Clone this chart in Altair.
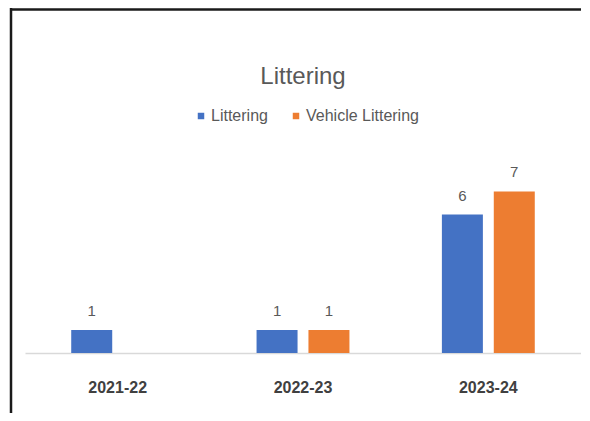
import altair as alt
import pandas as pd

years = ["2021-22", "2022-23", "2023-24"]
series = ["Littering", "Vehicle Littering"]
littering = [1, 1, 6]
vehicle_littering = [None, 1, 7]
colors = ["#4472C4", "#ED7D31"]

rows = []
for yr, a, b in zip(years, littering, vehicle_littering):
    if a is not None:
        rows.append({"year": yr, "series": series[0], "value": a})
    if b is not None:
        rows.append({"year": yr, "series": series[1], "value": b})
df = pd.DataFrame(rows)

FONT = "Liberation Sans"

x = alt.X(
    "year:N",
    sort=years,
    scale=alt.Scale(domain=years, paddingInner=0.44, paddingOuter=0.22),
    axis=alt.Axis(
        title=None,
        labelAngle=0,
        labelFontSize=16,
        labelFontWeight=600,
        labelColor="#404040",
        labelFont=FONT,
        labelPadding=26,
        ticks=False,
        grid=False,
        domainColor="#D9D9D9",
        domainWidth=1.5,
    ),
)
xo = alt.XOffset(
    "series:N",
    sort=series,
    scale=alt.Scale(domain=series, paddingInner=0.21, paddingOuter=0.105),
)
y = alt.Y("value:Q", scale=alt.Scale(domain=[0, 7.8]), axis=None)
color = alt.Color(
    "series:N",
    sort=series,
    scale=alt.Scale(domain=series, range=colors),
    legend=alt.Legend(
        title=None,
        orient="none",
        direction="horizontal",
        legendX=168,
        legendY=-65,
        padding=0,
        symbolType="square",
        symbolSize=42,
        symbolStrokeWidth=0,
        labelFontSize=16,
        labelFont=FONT,
        labelColor="#595959",
        columnPadding=20,
        labelOffset=2,
    ),
)

base = alt.Chart(df).encode(x=x, xOffset=xo, y=y)
bars = base.mark_bar().encode(color=color)
labels = base.mark_text(
    baseline="bottom", dy=-11, fontSize=15, font=FONT, color="#595959"
).encode(text=alt.Text("value:Q"))

frame_df = pd.DataFrame({"k": [0]})
left_line = alt.Chart(frame_df).mark_rule(color="#1a1a1a", strokeWidth=2.5, clip=False).encode(
    x=alt.value(-14), y=alt.value(-165), y2=alt.value(240)
)
top_line = alt.Chart(frame_df).mark_rule(color="#1a1a1a", strokeWidth=2.5, clip=False).encode(
    x=alt.value(-15), x2=alt.value(557), y=alt.value(-163.5)
)

chart = (
    alt.layer(bars, labels, left_line, top_line)
    .properties(
        width=556,
        height=180,
        background="white",
        autosize=alt.AutoSizeParams(type="none"),
        padding={"left": 17, "top": 165, "right": 0, "bottom": 60},
        title=alt.Title(
            "Littering",
            fontSize=24,
            font=FONT,
            fontWeight="normal",
            color="#595959",
            anchor="middle",
            baseline="bottom",
            offset=-106,
        ),
    )
    .configure_view(strokeWidth=0, stroke=None)
)

chart.save("out.html", embed_options={"renderer": "svg", "actions": False})
